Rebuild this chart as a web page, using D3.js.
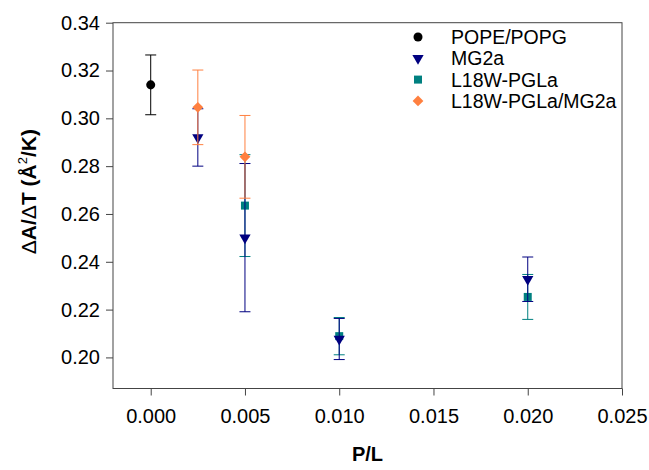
<!DOCTYPE html>
<html>
<head>
<meta charset="utf-8">
<script src="https://cdn.jsdelivr.net/npm/d3@7"></script>
<style>
  body { margin: 0; background: #fff; }
  text { font-family: Arial, "Liberation Sans", sans-serif; }
</style>
</head>
<body>
<div id="chart"></div>
<script>
// series names (legend order)
const seriesNames = ["POPE/POPG", "MG2a", "L18W-PGLa", "L18W-PGLa/MG2a"];

// POPE/POPG
const popeX = [0];
const popeY = [0.314];
const popeErr = [0.0125];

// MG2a
const mg2aX = [0.0025, 0.005, 0.010, 0.020];
const mg2aY = [0.292, 0.2501, 0.2077, 0.2327];
const mg2aErr = [0.012, 0.031, 0.0086, 0.0093];

// L18W-PGLa
const pglaX = [0.005, 0.010, 0.020];
const pglaY = [0.2635, 0.2089, 0.2253];
const pglaErr = [0.0213, 0.0078, 0.0094];

// L18W-PGLa/MG2a
const mixX = [0.0025, 0.005];
const mixY = [0.3046, 0.2839];
const mixErr = [0.0156, 0.0173];

const xTicks = [0, 0.005, 0.010, 0.015, 0.020, 0.025];
const yTicks = [0.20, 0.22, 0.24, 0.26, 0.28, 0.30, 0.32, 0.34];

// set the dimensions and margins of the graph
var W = 649, H = 470;
var margin = {top: 22.7, right: 27, bottom: 81.5, left: 113},
    width = W - margin.left - margin.right,
    height = H - margin.top - margin.bottom;

var svg = d3.select("#chart")
    .append("svg")
    .attr("width", W)
    .attr("height", H)
    .append("g")
    .attr("transform", "translate(" + margin.left + "," + margin.top + ")");

var x = d3.scaleLinear().domain([-0.002, 0.025]).range([0, width]);
var y = d3.scaleLinear().domain([0.187, 0.34]).range([height, 0]);

// axes
var xAxis = svg.append("g")
    .attr("transform", "translate(0," + height + ")")
    .call(d3.axisBottom(x).tickValues(xTicks).tickFormat(d3.format(".3f")).tickSizeOuter(0).tickSize(7).tickPadding(13));
var yAxis = svg.append("g")
    .call(d3.axisLeft(y).tickValues(yTicks).tickFormat(d3.format(".2f")).tickSizeOuter(0).tickSize(7).tickPadding(6));

[xAxis, yAxis].forEach(function(a) {
    a.select(".domain").remove();
    a.selectAll("line").attr("stroke", "#444");
    a.selectAll("text").attr("font-size", 20).attr("fill", "#000")
        .style("font-family", "Arial, 'Liberation Sans', sans-serif");
});

// frame
svg.append("rect")
    .attr("x", 0).attr("y", 0)
    .attr("width", width).attr("height", height)
    .attr("fill", "none")
    .attr("stroke", "#444")
    .attr("stroke-width", 1);

// series definitions
var series = [
    {name: seriesNames[0], xs: popeX, ys: popeY, es: popeErr, color: "#000000", sym: d3.symbolCircle, size: 64, rot: 0},
    {name: seriesNames[2], xs: pglaX, ys: pglaY, es: pglaErr, color: "#008080", sym: d3.symbolSquare, size: 64, rot: 0},
    {name: seriesNames[1], xs: mg2aX, ys: mg2aY, es: mg2aErr, color: "#000080", sym: d3.symbolTriangle, size: 55, rot: 180},
    {name: seriesNames[3], xs: mixX, ys: mixY, es: mixErr, color: "#ff8040", sym: d3.symbolSquare, size: 58, rot: 45}
];

var cap = 5.5;

series.forEach(function(s) {
    var pts = s.xs.map(function(v, i) { return {x: v, y: s.ys[i], e: s.es[i]}; });
    var g = svg.append("g");

    // error bars
    var eb = g.selectAll(".eb").data(pts).enter().append("g").attr("class", "eb")
        .attr("stroke", s.color).attr("stroke-width", 1);
    eb.append("line")
        .attr("x1", function(d) { return x(d.x); })
        .attr("x2", function(d) { return x(d.x); })
        .attr("y1", function(d) { return y(d.y + d.e); })
        .attr("y2", function(d) { return y(d.y - d.e); });
    eb.append("line")
        .attr("x1", function(d) { return x(d.x) - cap; })
        .attr("x2", function(d) { return x(d.x) + cap; })
        .attr("y1", function(d) { return y(d.y + d.e); })
        .attr("y2", function(d) { return y(d.y + d.e); });
    eb.append("line")
        .attr("x1", function(d) { return x(d.x) - cap; })
        .attr("x2", function(d) { return x(d.x) + cap; })
        .attr("y1", function(d) { return y(d.y - d.e); })
        .attr("y2", function(d) { return y(d.y - d.e); });

    // markers
    g.selectAll(".pt").data(pts).enter().append("path")
        .attr("class", "pt")
        .attr("d", d3.symbol().type(s.sym).size(s.size))
        .attr("transform", function(d) {
            return "translate(" + x(d.x) + "," + y(d.y) + ") rotate(" + s.rot + ")";
        })
        .attr("fill", s.color);
});

// legend
var legendSyms = [
    {sym: d3.symbolCircle, size: 64, rot: 0, color: "#000000"},
    {sym: d3.symbolTriangle, size: 55, rot: 180, color: "#000080"},
    {sym: d3.symbolSquare, size: 64, rot: 0, color: "#008080"},
    {sym: d3.symbolSquare, size: 58, rot: 45, color: "#ff8040"}
];
var legend = svg.append("g").attr("transform", "translate(" + (418 - margin.left) + "," + (37 - margin.top) + ")");
seriesNames.forEach(function(name, i) {
    var row = legend.append("g").attr("transform", "translate(0," + (i * 21.3) + ")");
    row.append("path")
        .attr("d", d3.symbol().type(legendSyms[i].sym).size(legendSyms[i].size))
        .attr("transform", "rotate(" + legendSyms[i].rot + ")")
        .attr("fill", legendSyms[i].color);
    row.append("text")
        .attr("x", 33)
        .attr("y", 7)
        .attr("font-size", 19.5)
        .text(name);
});

// axis titles
svg.append("text")
    .attr("x", width / 2)
    .attr("y", height + 73)
    .attr("text-anchor", "middle")
    .attr("font-size", 20)
    .attr("font-weight", "bold")
    .text("P/L");

var yt = svg.append("text")
    .attr("transform", "translate(" + (36 - margin.left) + "," + (height / 2 - 14) + ") rotate(-90)")
    .attr("text-anchor", "middle")
    .attr("font-size", 21)
    .attr("font-weight", "bold");
yt.append("tspan").attr("font-weight", "normal").text("Δ");
yt.append("tspan").text("A/");
yt.append("tspan").attr("font-weight", "normal").text("Δ");
yt.append("tspan").text("T (Å");
yt.append("tspan").attr("font-size", 13).attr("font-weight", "normal").attr("dy", -9).text("2");
yt.append("tspan").attr("dy", 9).text("/K)");
</script>
</body>
</html>
